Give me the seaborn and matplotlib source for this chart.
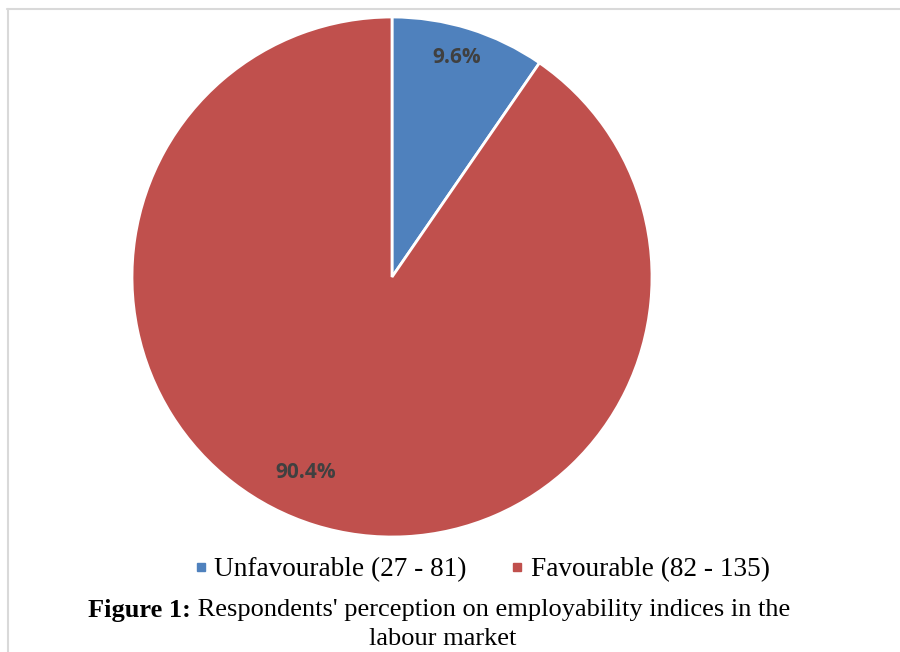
import matplotlib
matplotlib.use("Agg")
import numpy as np
import matplotlib.pyplot as plt
from matplotlib.lines import Line2D
import seaborn as sns

# Chart data
categories = ["Unfavourable (27 - 81)", "Favourable (82 - 135)"]
shares = [9.6, 90.4]
colors = ["#4F81BD", "#C0504D"]

caption_bold = "Figure 1:"
caption_rest = " Respondents' perception on employability indices in the"
caption_line2 = "labour market"

sns.set_style("white")

W, H = 900, 652
fig = plt.figure(figsize=(W / 100, H / 100), dpi=100)

# pie occupies a square of 520 px centred at (392, 277)
ax = fig.add_axes([132 / W, 1 - 537 / H, 520 / W, 520 / H])
wedges, texts, autotexts = ax.pie(
    shares,
    colors=colors,
    startangle=90,
    counterclock=False,
    autopct="%1.1f%%",
    pctdistance=0.85,
    wedgeprops=dict(edgecolor="white", linewidth=2),
    textprops=dict(color="#404040", fontsize=15, fontweight="bold",
                   family="Open Sans"),
)
# nudge data labels like Excel's "best fit" placement
label_r = [0.88, 0.82]
label_shift = [0.8, -6.5]
for w, t, r, d in zip(wedges, autotexts, label_r, label_shift):
    ang = np.deg2rad((w.theta1 + w.theta2) / 2 + d)
    t.set_position((r * np.cos(ang), r * np.sin(ang)))

ax.set_aspect("equal")
ax.set_xlim(-1, 1)
ax.set_ylim(-1, 1)
ax.axis("off")

# light frame lines along top and left edges
fig.add_artist(Line2D([7 / W, 1], [1 - 8.5 / H, 1 - 8.5 / H],
                      color="#D9D9D9", linewidth=1.5, transform=fig.transFigure))
fig.add_artist(Line2D([7.5 / W, 7.5 / W], [0, 1 - 8.5 / H],
                      color="#D9D9D9", linewidth=1.5, transform=fig.transFigure))

# legend
handles = [Line2D([], [], marker="s", linestyle="none", markersize=6,
                  markerfacecolor=c, markeredgecolor=c) for c in colors]
leg = fig.legend(handles, categories, loc="center", ncol=2,
                 bbox_to_anchor=(482 / W, 1 - 570 / H), frameon=False,
                 prop=dict(family="Liberation Serif", size=19.6),
                 handlelength=0.5, handletextpad=0.25, columnspacing=1.6)
for t in leg.get_texts():
    t.set_color("black")

# caption: bold lead followed by normal text
fig.canvas.draw()
renderer = fig.canvas.get_renderer()
t1 = fig.text(88 / W, 1 - 610 / H, caption_bold, fontweight="bold",
              family="Liberation Serif", fontsize=19, va="center", ha="left",
              color="black")
bb = t1.get_window_extent(renderer)
fig.text(bb.x1 / W, 1 - 610 / H, caption_rest, family="Liberation Serif",
         fontsize=19, va="center", ha="left", color="black")
fig.text(443 / W, 1 - 639 / H, caption_line2, family="Liberation Serif",
         fontsize=19, va="center", ha="center", color="black")

fig.savefig("out.png", dpi=100)
